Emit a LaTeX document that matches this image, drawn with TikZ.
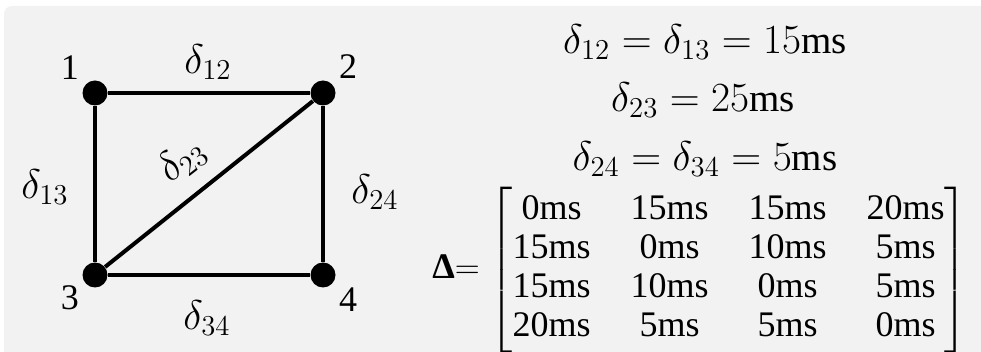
\documentclass[tikz,border=0pt]{standalone}
\usepackage{amsmath}
\usepackage{fontspec}
\setmainfont{Liberation Serif}
\definecolor{panel}{HTML}{F2F2F2}
\begin{document}
\begin{tikzpicture}[x=0.5pt, y=-0.5pt,
                    every node/.style={font=\fontsize{18}{21}\selectfont, inner sep=0pt},
                    vertex/.style={circle, fill=black, minimum size=12.5pt},
                    delay/.style={font=\fontsize{20}{24}\selectfont},
                    eqline/.style={font=\fontsize{19.5}{24}\selectfont}
                    ]

                    \clip (0,0) rectangle (981,352);
                    \fill[panel, rounded corners=4pt] (4,6) rectangle (1000,370);

                    \node[vertex] (1) at (95,93) {};
                    \node[vertex] (2) at (323,93) {};
                    \node[vertex] (3) at (95,275) {};
                    \node[vertex] (4) at (323,275) {};

                    \foreach \i/\j in {1/2,1/3,2/3,2/4,3/4}{
                        \draw[line width=2pt] (\i) -- (\j);
                    }

                    \node (n1) at (70,68) {1};
                    \node (n2) at (348,67) {2};
                    \node (n3) at (70,298) {3};
                    \node (n4) at (348,300) {4};

                    \node[delay] (d12) at (208,62) {$\delta_{12}$};
                    \node[delay] (d13) at (45,187) {$\delta_{13}$};
                    \node[delay, rotate=38] (d23) at (182,160) {$\delta_{23}$};
                    \node[delay] (d24) at (375,192) {$\delta_{24}$};
                    \node[delay] (d34) at (207,318) {$\delta_{34}$};

                    \node[eqline] (eqa) at (705,42) {$\delta_{12}=\delta_{13}=15\mathrm{ms}$};
                    \node[eqline] (eqb) at (703,100) {$\delta_{23}=25\mathrm{ms}$};
                    \node[eqline] (eqc) at (705,159) {$\delta_{24}=\delta_{34}=5\mathrm{ms}$};

                    \node (dmat) at (700,270) {\fontsize{18}{19.5}\selectfont\setlength{\arraycolsep}{10pt}%
                        \textbf{Δ}$=\begin{bmatrix}
                        \mathrm{0ms} & \mathrm{15ms} & \mathrm{15ms} & \mathrm{20ms}\\
                        \mathrm{15ms} & \mathrm{0ms} & \mathrm{10ms} & \mathrm{5ms}\\
                        \mathrm{15ms} & \mathrm{10ms} & \mathrm{0ms} & \mathrm{5ms}\\
                        \mathrm{20ms} & \mathrm{5ms} & \mathrm{5ms} & \mathrm{0ms}
                        \end{bmatrix}$};

                \end{tikzpicture}
\end{document}
